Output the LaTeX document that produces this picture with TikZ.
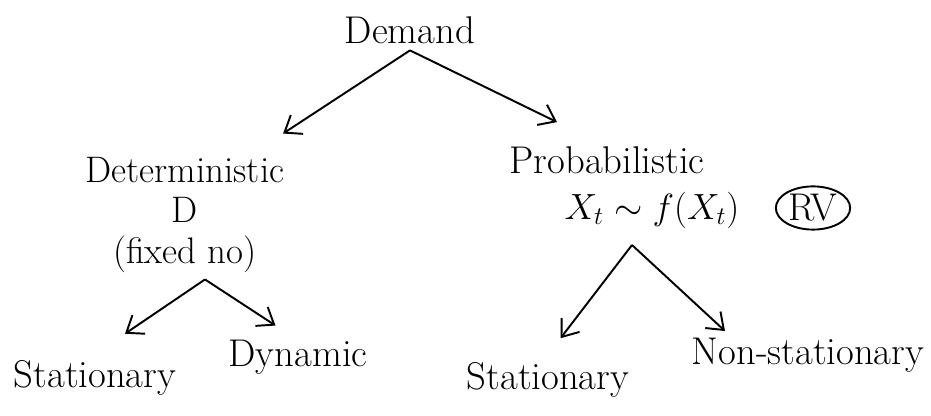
\documentclass[tikz,border=0pt]{standalone}
\usepackage{amsmath,amssymb}
\usetikzlibrary{arrows.meta,shapes.geometric}

\begin{document}
\begin{tikzpicture}[>={Straight Barb[length=3mm,width=4.5mm]}, line width=1.1pt,
  every node/.style={font=\fontsize{22}{26}\selectfont}]
\useasboundingbox (0,0) rectangle (18.62,8.32);

\node (demand) at (8.2,7.72) {Demand};

% Level 1: Deterministic / Probabilistic
\node[align=center,font=\fontsize{21}{23}\selectfont] (det) at (3.7,4.02)
  {Deterministic\\D\\(fixed no)};

\node (prob) at (12.14,5.12) {Probabilistic};
\node (xt) at (13.04,4.12) {$X_t \sim f(X_t)$};
\node[draw,ellipse,inner sep=1pt] (rv) at (16.26,4.16) {RV};

% Level 2: kinds of demand
\node (stat1) at (1.9,0.76) {Stationary};
\node (dyn) at (5.96,1.18) {Dynamic};

\node (stat2) at (10.96,0.72) {Stationary};
\node (nonstat) at (16.16,1.22) {Non-stationary};

% Arrows (Demand to Level 1)
\draw[->] (demand.south) -- ([xshift=-1.6mm,yshift=3.4mm]det.north east);
\draw[->] (demand.south) -- ([xshift=-1cm,yshift=3.5mm]prob.north);

% Arrows (Level 1 to Level 2)
\draw[->] ([xshift=4mm]det.south) -- ([xshift=6mm,yshift=4mm]stat1.north);
\draw[->] ([xshift=4mm]det.south) -- ([xshift=-4.5mm,yshift=1.5mm]dyn.north);

\draw[->] ([xshift=-4mm,yshift=-2mm]xt.south) -- ([xshift=2.5mm,yshift=3.5mm]stat2.north);
\draw[->] ([xshift=-4mm,yshift=-2mm]xt.south) -- ([xshift=8mm]nonstat.north west);
\end{tikzpicture}
\end{document}
